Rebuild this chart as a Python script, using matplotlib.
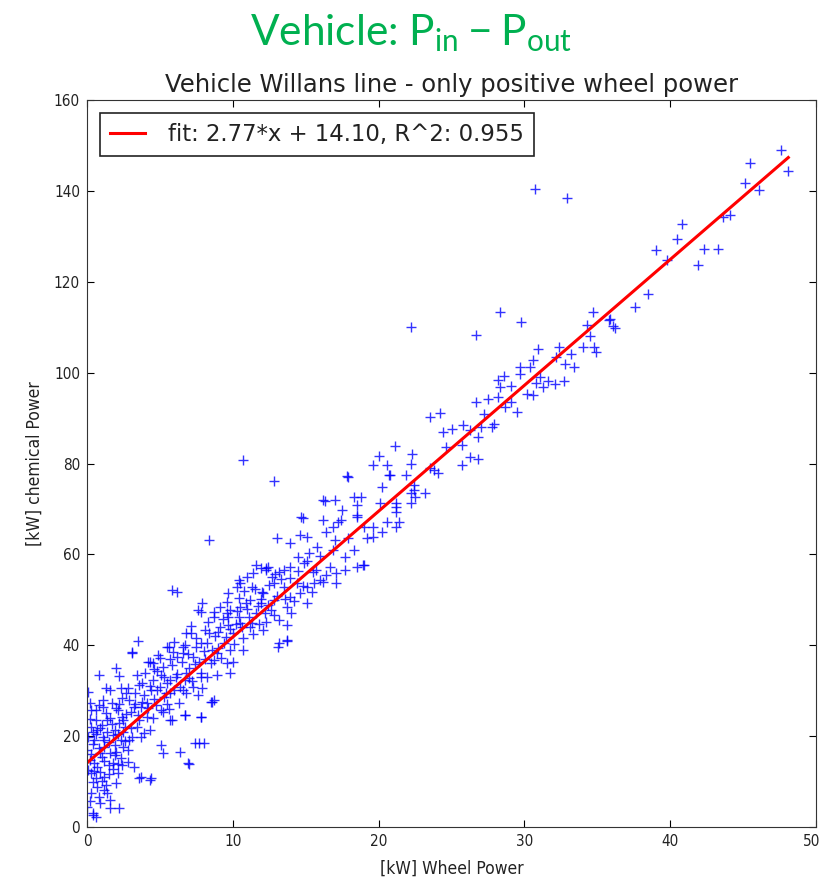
import numpy as np
import matplotlib
matplotlib.use("Agg")
import matplotlib.pyplot as plt
import matplotlib.transforms as mtransforms

# wheel power [kW], grouped by region
wheel_kw = [
    # upper right
    47.6, 45.5, 48.1, 45.1, 46.1, 43.6, 44.1, 40.8, 40.5, 39.0, 39.8, 42.3, 43.3, 41.9, 38.5, 37.6, 35.9, 36.1,
    # outliers
    30.7, 32.9, 22.2, 10.7, 12.8, 8.4, 5.8, 6.2,
    # x 27-36
    28.3, 29.8, 34.7, 34.3, 35.8, 36.2, 34.5, 34.0, 34.8, 34.9, 32.4, 33.2, 30.9, 30.6, 32.2, 32.8, 33.4, 29.7, 30.4, 28.6,
    29.7, 31.1, 31.6, 32.1, 32.7, 30.8, 29.1, 30.2, 30.6, 31.3, 28.3, 28.2, 27.5, 29.1, 28.7, 29.5, 27.2, 27.9, 27.0,
    # x 17-28
    26.7, 28.2, 26.7, 23.5, 24.2, 25.8, 24.4, 25.0, 26.3, 26.8, 27.8, 24.6, 25.7, 26.3, 26.8, 25.7, 23.8, 24.1, 21.1, 20.0,
    19.6, 20.6, 22.3, 22.2, 20.7, 21.9, 17.9, 20.2, 22.4, 22.2, 23.2, 22.5, 17.0, 18.3, 18.8, 17.5, 18.5, 20.1, 21.2, 22.2,
    21.2, 18.5, 17.4, 20.6, 21.4, 19.0, 19.6, 23.5, 21.2, 20.2, 19.6, 21.2,
    # x 9-20
    16.3, 18.5, 14.8, 16.2, 17.2, 13.0, 13.9, 14.6, 15.1, 16.4, 16.9, 15.8, 17.0, 17.9, 19.2, 18.3, 17.7, 18.9, 14.5, 14.9,
    15.5, 16.7, 17.1, 16.2, 13.9, 13.2, 12.4, 11.6, 11.4, 11.0, 10.4, 9.7, 10.3, 11.3, 12.1, 12.8, 13.5, 14.4, 15.1, 15.6,
    14.6, 13.9, 12.8, 11.9, 11.2, 10.5, 9.6, 11.6, 12.6, 13.7, 15.1, 13.2, 12.3, 10.5, 9.7, 13.7, 16.0, 16.9, 14.7, 16.2,
    17.8, 20.8, 22.4, 19.0, 18.5, 17.7, 17.1, 13.2, 13.7, 11.9, 12.3, 12.7,
    # x 4-14
    12.3, 13.5, 10.5, 7.9, 7.8, 9.1, 8.7, 9.8, 10.4, 7.1, 8.1, 9.1, 10.0, 11.2, 12.1, 13.1, 13.7, 5.5, 6.6, 7.5,
    6.2, 7.3, 8.9, 9.8, 10.7, 9.6, 8.7, 4.5, 5.2, 4.5, 5.7, 6.8, 7.8, 9.8, 4.8, 5.7, 6.6, 7.3, 8.6, 5.8,
    6.7, 7.8, 7.6, 8.7, 6.8, 5.6, 5.0, 4.2, 8.7, 7.4, 8.0,
    # x 0-8
    3.1, 0.8, 2.0, 2.2, 4.3, 6.7, 0.1, 1.6, 2.8, 3.8, 4.4, 5.5, 6.7, 7.8, 8.5, 0.3, 1.1, 2.1, 3.2, 4.1,
    5.3, 5.1, 5.7, 6.7, 7.8, 4.5, 0.6, 1.4, 2.5, 3.6, 0.7, 1.9, 3.0, 4.3, 0.1, 1.2, 2.3, 3.7, 5.1, 7.7,
    6.4, 5.2, 7.0, 0.0, 0.9, 1.9, 2.8, 0.5, 1.5, 2.4, 3.2, 0.3, 1.2, 2.1, 3.7, 4.4, 0.7, 1.4, 0.3, 1.6,
    0.9, 2.2, 1.6, 0.4, 0.6, 0.0, 3.1, 3.5, 6.9, 3.6, 4.3, 0.4,
    # dense band, x 0-4
    0.2, 0.4, 0.6, 0.8, 1.0, 1.2, 1.3, 1.5, 1.7, 1.8, 2.0, 2.2, 2.4, 2.6, 2.7, 2.9, 1.0, 0.5, 1.8, 2.5,
    0.3, 1.1, 2.1, 0.8, 1.6, 2.9, 0.2, 0.4, 1.3, 2.3,
    0.1, 0.3, 0.5, 0.6, 0.7, 0.9, 1.0, 1.1, 1.2, 1.4, 1.5, 1.6, 1.7, 1.9, 2.0, 2.1, 2.3, 2.4, 2.6, 2.7,
    2.8, 3.0, 3.1, 3.3, 3.4, 3.6, 3.7, 3.9, 0.2, 0.4, 0.9, 1.3, 1.8, 2.2, 2.5, 0.6, 1.2, 0.8, 0.2, 2.0,
    # dense band, x 3-8
    3.3, 3.5, 3.8, 4.0, 4.2, 4.6, 4.8, 5.0, 5.3, 5.5, 5.8, 6.0, 6.2, 6.5, 6.8, 7.0, 7.2, 7.5, 7.7, 8.0,
    3.4, 4.1, 4.9, 5.9, 6.3, 7.1, 7.9, 3.9, 5.6, 6.9,
    # dense band, x 4-12
    4.3, 4.7, 5.1, 5.4, 5.7, 6.1, 6.4, 6.6, 7.0, 7.4, 7.8, 8.1, 8.4, 8.6, 9.0, 9.4, 9.7, 10.2, 10.7, 11.0,
    11.3, 11.9, 12.4, 4.6, 5.2, 6.0, 7.6, 8.2, 9.6, 10.8,
    # dense band, x 8-16
    8.2, 8.5, 8.8, 9.0, 9.3, 9.5, 9.8, 10.1, 10.3, 10.6, 10.9, 11.1, 11.4, 11.7, 12.0, 12.2, 12.5, 12.8, 13.0, 13.3,
    13.6, 13.9, 14.2, 14.5, 14.8, 15.1, 15.4, 15.7, 16.0, 16.4, 8.3, 9.2, 10.4, 11.8, 12.9, 14.0, 15.2, 8.9, 10.0, 11.5,
]

# chemical power [kW], same order as wheel_kw
chem_kw = [
    149.1, 146.1, 144.4, 141.7, 140.2, 134.2, 134.7, 132.6, 129.4, 127.0, 124.8, 127.3, 127.3, 123.7, 117.3, 114.4, 111.7, 110.3,
    140.4, 138.4, 110.0, 80.8, 76.1, 63.2, 52.2, 51.7,
    113.4, 111.2, 113.4, 110.5, 111.6, 109.9, 108.1, 105.6, 105.6, 104.6, 105.6, 104.1, 105.1, 102.8, 103.5, 102.0, 101.2, 101.2, 101.3, 99.3,
    99.8, 99.1, 98.2, 97.6, 98.2, 97.8, 97.0, 95.4, 95.1, 96.9, 96.9, 94.7, 94.3, 93.6, 92.5, 91.4, 91.0, 88.8, 88.1,
    108.3, 98.4, 93.6, 90.3, 91.2, 88.5, 87.0, 87.7, 87.4, 85.9, 88.1, 83.7, 84.1, 81.5, 81.1, 79.7, 78.6, 77.8, 83.8, 81.6,
    79.7, 79.7, 82.2, 80.0, 77.5, 77.5, 77.1, 74.9, 75.3, 73.4, 73.4, 72.7, 72.0, 72.7, 72.7, 69.8, 70.9, 71.2, 71.2, 71.2,
    69.4, 68.3, 67.6, 67.2, 67.2, 66.1, 66.1, 78.9, 70.5, 65.0, 63.9, 66.1,
    71.7, 68.7, 68.1, 67.6, 67.2, 63.5, 62.4, 64.3, 63.8, 65.0, 66.0, 61.6, 63.2, 63.5, 63.5, 61.0, 59.5, 57.7, 59.5, 58.0,
    56.2, 57.3, 55.8, 54.0, 57.3, 56.2, 57.3, 57.7, 55.8, 55.1, 54.4, 51.4, 52.9, 52.9, 51.4, 53.6, 52.9, 53.6, 52.9, 53.6,
    51.4, 50.7, 50.0, 49.2, 50.0, 48.5, 47.0, 47.0, 47.8, 48.5, 49.2, 45.6, 45.2, 44.8, 44.5, 44.5, 54.4, 61.0, 68.3, 72.0,
    77.2, 77.5, 74.2, 57.7, 57.3, 56.6, 53.6, 40.4, 41.0, 56.9, 56.9, 55.1,
    56.6, 56.6, 53.6, 49.2, 47.4, 48.5, 46.3, 47.8, 46.3, 42.6, 43.4, 44.1, 42.6, 44.1, 43.4, 39.7, 41.2, 39.7, 39.7, 39.7,
    37.5, 37.5, 38.2, 39.0, 39.0, 36.0, 36.8, 36.0, 35.3, 32.4, 32.4, 33.8, 33.8, 33.8, 30.1, 29.4, 30.1, 30.9, 27.6, 23.5,
    24.6, 24.3, 47.8, 47.4, 42.6, 39.7, 37.1, 36.4, 27.9, 18.4, 18.4,
    38.4, 33.5, 34.9, 33.2, 36.4, 40.0, 29.8, 30.1, 30.5, 31.6, 30.1, 31.6, 32.4, 33.1, 27.6, 25.7, 26.5, 25.7, 26.5, 27.2,
    28.7, 25.7, 23.5, 24.6, 24.1, 23.9, 23.5, 23.5, 23.5, 23.5, 21.3, 21.3, 21.7, 21.3, 19.9, 19.1, 19.1, 19.9, 18.0, 18.4,
    16.6, 16.2, 13.9, 16.9, 16.2, 15.8, 16.9, 14.0, 13.6, 13.6, 13.3, 11.8, 11.1, 11.8, 11.1, 10.7, 8.9, 7.4, 7.4, 5.9,
    5.2, 4.1, 4.1, 3.0, 2.3, 4.5, 38.6, 41.0, 14.0, 10.7, 10.3, 2.6,
    14.8, 18.2, 20.5, 17.3, 22.4, 14.6, 25.1, 18.7, 27.3, 20.2, 16.4, 22.9, 28.4, 18.9, 24.8, 27.9, 10.2, 12.3, 12.7, 21.0,
    22.0, 19.8, 13.9, 26.8, 24.0, 19.2, 27.4, 9.8, 9.2, 30.7,
    12.5, 16.0, 19.2, 25.8, 13.1, 21.8, 15.5, 28.0, 17.6, 21.0, 11.7, 16.2, 22.7, 18.1, 26.2, 20.4, 15.2, 24.3, 22.0, 29.6,
    14.4, 25.4, 19.8, 27.0, 22.1, 31.2, 26.4, 29.0, 23.8, 20.9, 12.0, 30.5, 14.0, 27.0, 17.5, 10.8, 8.2, 6.6, 5.8, 9.6,
    29.4, 24.6, 27.5, 33.8, 26.1, 28.2, 34.3, 30.8, 33.0, 27.0, 35.7, 30.2, 33.6, 36.4, 29.5, 35.0, 32.2, 41.5, 36.3, 38.8,
    33.5, 24.2, 37.8, 38.6, 27.2, 44.2, 30.5, 20.6, 26.0, 38.0,
    31.0, 26.9, 33.4, 29.6, 37.0, 33.0, 30.8, 38.4, 32.8, 35.9, 40.6, 36.9, 42.8, 38.9, 43.0, 40.4, 46.3, 44.7, 41.6, 48.0,
    45.0, 50.1, 48.9, 34.8, 25.3, 40.8, 29.1, 33.0, 49.5, 52.0,
    40.4, 36.2, 42.0, 39.4, 45.7, 41.8, 43.6, 40.2, 47.6, 44.0, 49.4, 46.3, 42.5, 48.7, 51.8, 47.0, 53.2, 46.6, 50.8, 54.6,
    50.2, 54.9, 49.8, 56.4, 53.0, 58.6, 51.8, 56.5, 59.7, 55.4, 45.1, 37.2, 50.5, 44.6, 55.7, 47.2, 60.4, 33.4, 36.3, 52.3,
]

fit_coef = [2.77, 14.10]
r_squared = 0.955

x_ticks = [0, 10, 20, 30, 40, 50]
y_ticks = [0, 20, 40, 60, 80, 100, 120, 140, 160]

fig = plt.figure(figsize=(8.22, 8.82), dpi=100)
ax = fig.add_axes([87 / 822, 55 / 882, 729 / 822, 727 / 882])

ax.plot(wheel_kw, chem_kw, "+", color="#0000ff", ms=7.5, mew=1.0, alpha=0.8)

xs = np.array([min(wheel_kw), max(wheel_kw)])
label = "fit: %.2f*x + %.2f, R^2: %.3f" % (fit_coef[0], fit_coef[1], r_squared)
ax.plot(xs, np.polyval(fit_coef, xs), color="#ff0000", lw=2.2, label=label)

ax.set_xlim(0, 50)
ax.set_ylim(0, 160)
ax.set_xticks(x_ticks)
ax.set_yticks(y_ticks)
ax.tick_params(direction="in", top=True, right=True, length=5, pad=5)
for t in ax.get_xticklabels() + ax.get_yticklabels():
    t.set_fontsize(11)
    t.set_fontstretch("condensed")
    t.set_color("#222222")
# keep the last x label inside the figure edge
last = ax.get_xticklabels()[-1]
last.set_transform(last.get_transform() +
                   mtransforms.ScaledTranslation(-4 / 100, 0, fig.dpi_scale_trans))
for sp in ax.spines.values():
    sp.set_color("#333333")

ax.set_xlabel("[kW] Wheel Power", fontsize=12.5, color="#222222", labelpad=8,
              fontstretch="condensed")
ax.set_ylabel("[kW] chemical Power", fontsize=12.5, color="#222222", labelpad=7,
              fontstretch="condensed")
ax.set_title("Vehicle Willans line - only positive wheel power", fontsize=17.5,
             color="#222222", pad=6)

leg = ax.legend(loc="upper left", fontsize=16.4, fancybox=False, framealpha=1,
                edgecolor="#222222", handlelength=1.55, borderpad=0.45,
                handletextpad=1.0, borderaxespad=0.55)
leg.get_frame().set_linewidth(1.2)
for t in leg.get_texts():
    t.set_color("#222222")

fig.text(0.5, 1 - 33 / 882, r"Vehicle: $\mathregular{P_{in}-P_{out}}$",
         ha="center", va="center", fontsize=30.5, color="#00b050", family="Lato")

fig.savefig("out.png", dpi=100)
